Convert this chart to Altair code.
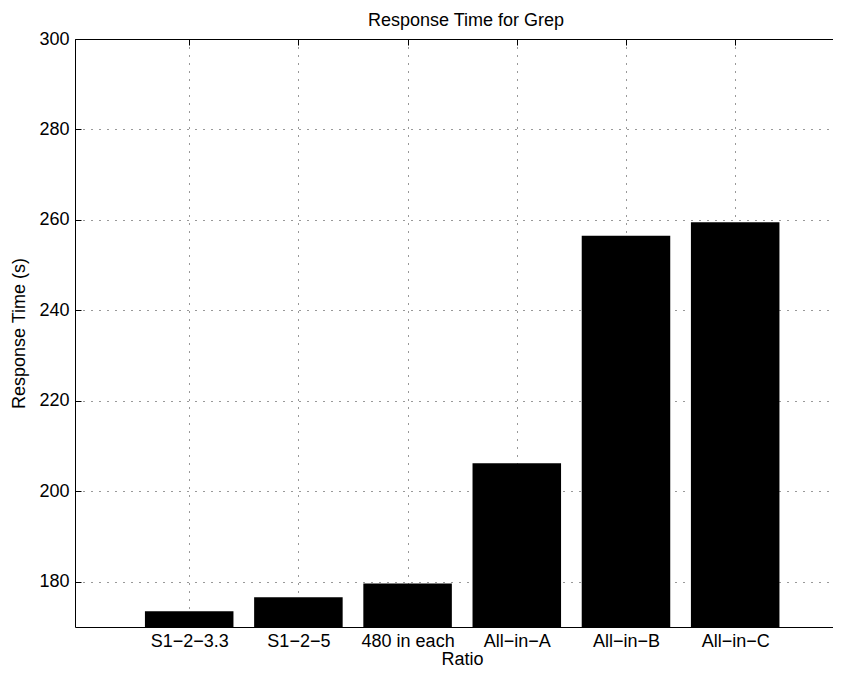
import altair as alt
import pandas as pd

# ---- data ----
categories = ["S1−2−3.3", "S1−2−5", "480 in each", "All−in−A", "All−in−B", "All−in−C"]
positions = [1, 2, 3, 4, 5, 6]
values = [173.5, 176.6, 179.6, 206.2, 256.5, 259.5]
y_ticks = [180, 200, 220, 240, 260, 280, 300]
x_domain = [0, 6.85]
y_domain = [170, 300]

df = pd.DataFrame({"pos": positions, "cat": categories, "val": values})

FONT = "Liberation Sans"
FS = 18
W, H = 758, 588
BAR = 0.8 * W / (x_domain[1] - x_domain[0])

label_expr = " : ".join(
    [f"datum.value == {p} ? '{c}'" for p, c in zip(positions, categories)]
) + " : ''"

xs = alt.Scale(domain=x_domain, nice=False, zero=False)
ys = alt.Scale(domain=y_domain, nice=False, zero=False)

common = dict(labelFont=FONT, titleFont=FONT, labelFontSize=FS, titleFontSize=FS,
              labelColor="black", titleColor="black", titleFontWeight="normal",
              domainColor="black", tickColor="black", labelFlush=False, labelOverlap=False)

bars = alt.Chart(df).mark_bar(color="black", size=BAR, clip=True).encode(
    x=alt.X("pos:Q", scale=xs, axis=alt.Axis(
        values=positions, labelExpr=label_expr, tickSize=0, labelPadding=5,
        grid=True, gridDash=[1, 7], gridColor="black", gridOpacity=0.8,
        title="Ratio", titleX=387, titleY=37, titleBaseline="alphabetic", **common)),
    y=alt.Y("val:Q", scale=ys, axis=alt.Axis(
        values=y_ticks, tickSize=0, labelPadding=6,
        grid=True, gridDash=[1, 7], gridColor="black", gridOpacity=0.8,
        title="Response Time (s)", titlePadding=10, **common)),
    y2=alt.datum(y_domain[0]),
)

inner_ticks = alt.Chart(df).mark_point(opacity=0).encode(
    x=alt.X("pos:Q", scale=xs, axis=alt.Axis(
        orient="top", values=positions, offset=-6, tickSize=6, labels=False,
        domain=False, grid=False, title="", tickColor="black")),
    y=alt.Y("val:Q", scale=ys, axis=alt.Axis(
        orient="left", values=y_ticks, offset=-6, tickSize=6, labels=False,
        domain=False, grid=False, title="", tickColor="black")),
)

top_border = alt.Chart(df).mark_point(opacity=0).encode(
    x=alt.X("pos:Q", scale=xs, axis=alt.Axis(
        orient="top", labels=False, ticks=False, grid=False, domain=True,
        domainColor="black", title="")),
)

chart = alt.layer(bars, inner_ticks, top_border).resolve_scale(
    x="shared", y="shared"
).resolve_axis(
    x="independent", y="independent"
).properties(
    width=W, height=H,
    title=alt.Title("Response Time for Grep", font=FONT, fontSize=FS,
                    fontWeight="normal", color="black", offset=0, dx=12),
    autosize=alt.AutoSizeParams(type="none"),
    padding={"left": 67, "top": 31, "right": 0, "bottom": 40},
    background="white",
).configure_view(stroke=None)

chart.save("out.html", embed_options={"renderer": "svg", "actions": False})
